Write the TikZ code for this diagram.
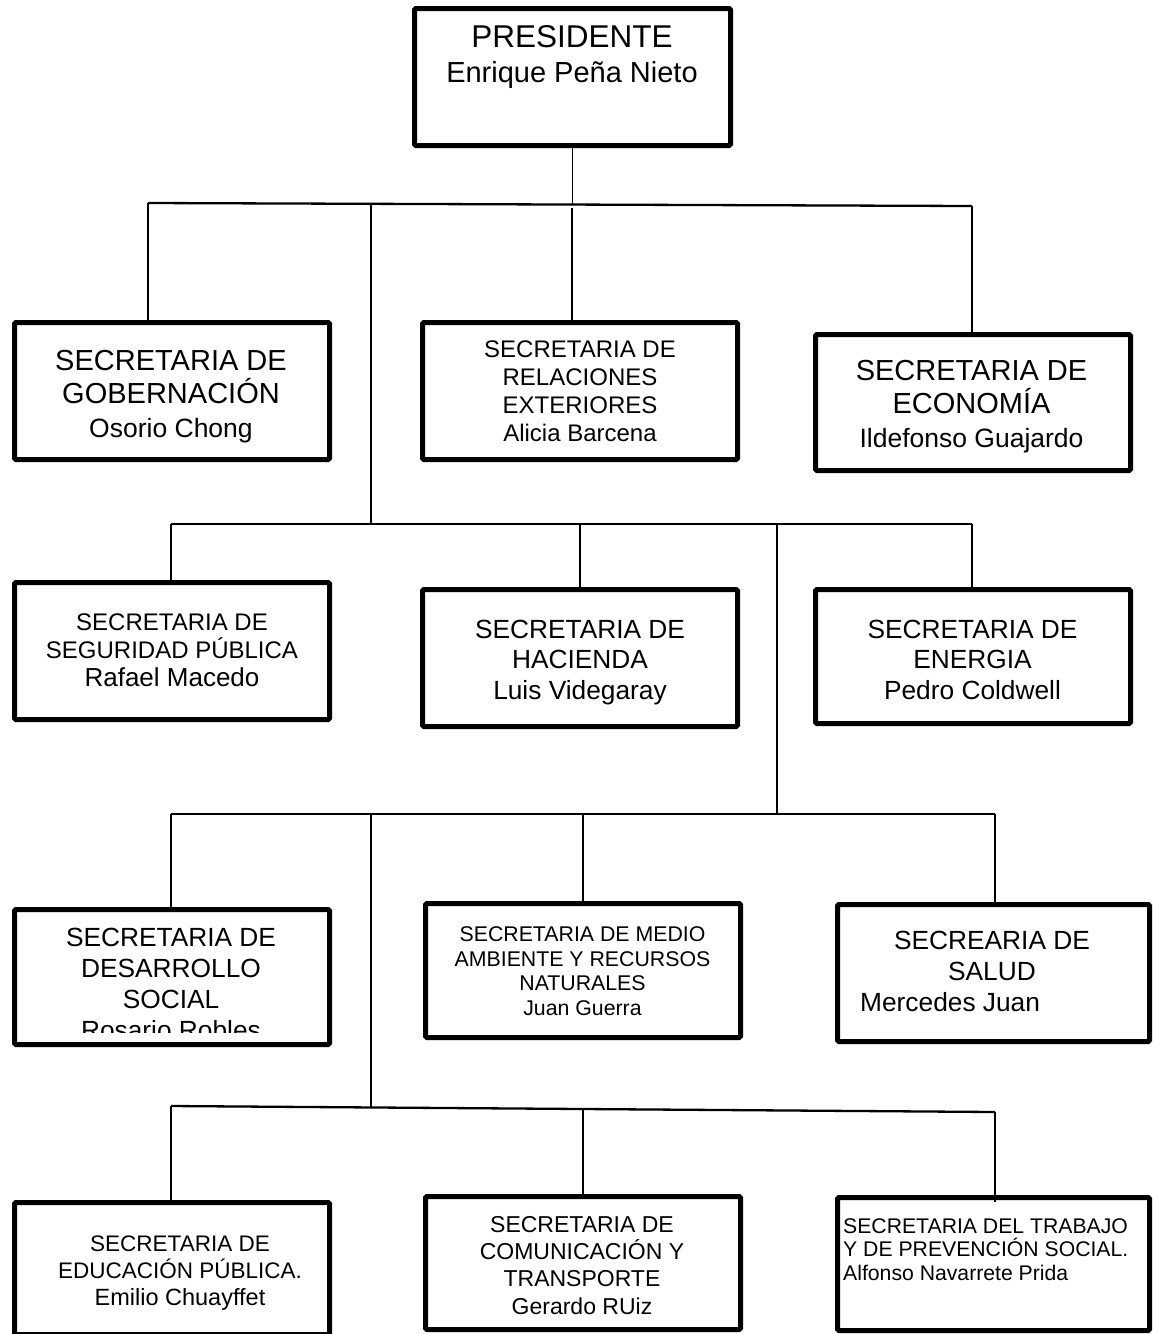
\documentclass[tikz,border=0pt]{standalone}
\usepackage{fontspec}
\setmainfont{Liberation Sans}
\newcommand\fs[2]{\fontsize{#1}{#2}\selectfont}
\begin{document}
\begin{tikzpicture}[x=1pt,y=-1pt,
  box/.style={draw, line width=5pt, rounded corners=1.5pt, inner sep=0pt, outer sep=0pt},
  conn/.style={line width=1.4pt},
  bus/.style={line width=2.3pt},
  txt/.style={inner sep=0pt, anchor=base, align=center},
  txl/.style={inner sep=0pt, anchor=base west, align=left}]
\useasboundingbox (0,0) rectangle (1152,1334);
% boxes
\node[box, minimum width=316pt, minimum height=137pt] (pres) at (572.5,77) {};
\node[box, minimum width=315pt, minimum height=137pt] (gob) at (172,391) {};
\node[box, minimum width=315pt, minimum height=137pt] (rel) at (580,391) {};
\node[box, minimum width=315pt, minimum height=136pt] (eco) at (973,402.5) {};
\node[box, minimum width=315pt, minimum height=137pt] (seg) at (172,651) {};
\node[box, minimum width=315pt, minimum height=137pt] (hac) at (580,658) {};
\node[box, minimum width=315pt, minimum height=134pt] (ene) at (973,656.5) {};
\node[box, minimum width=315pt, minimum height=135pt] (des) at (172,977) {};
\node[box, minimum width=315pt, minimum height=134pt] (med) at (583,970.5) {};
\node[box, minimum width=312pt, minimum height=137pt] (sal) at (993.5,973) {};
\node[box, minimum width=315pt, minimum height=132pt] (edu) at (172,1268.5) {};
\node[box, minimum width=315pt, minimum height=133pt] (com) at (583,1263) {};
\node[box, minimum width=312pt, minimum height=133pt] (tra) at (993.5,1264) {};
% texts (anchored at the baseline of the last line)
\node[txt, font=\fs{30}{35}] (presT) at (572,82) {{\fs{31.5}{35}PRESIDENTE}\\{\fs{29}{35}Enrique Peña Nieto}};
\node[txt, font=\fs{29}{33.5}] (gobT) at (171,437) {SECRETARIA DE\\GOBERNACIÓN\\{\fs{26.5}{33.5}Osorio Chong}};
\node[txt, font=\fs{24}{27.7}] (relT) at (580,441) {SECRETARIA DE\\RELACIONES\\EXTERIORES\\Alicia Barcena};
\node[txt, font=\fs{29}{33.5}] (ecoT) at (971.5,447) {SECRETARIA DE\\ECONOMÍA\\{\fs{26.5}{33.5}Ildefonso Guajardo}};
\node[txt, font=\fs{24}{28}] (segT) at (172,686) {SECRETARIA DE\\SEGURIDAD PÚBLICA\\{\fs{26}{28}Rafael Macedo}};
\node[txt, font=\fs{26.3}{30.5}] (hacT) at (580,699) {SECRETARIA DE\\HACIENDA\\Luis Videgaray};
\node[txt, font=\fs{26.3}{30.5}] (eneT) at (972.5,699) {SECRETARIA DE\\ENERGIA\\Pedro Coldwell};
\begin{scope}
\clip (12,907) rectangle (332,1032);
\node[txt, font=\fs{26.3}{30.8}] (desT) at (171,1039) {SECRETARIA DE\\DESARROLLO\\SOCIAL\\Rosario Robles};
\end{scope}
\node[txt, font=\fs{21.3}{24.4}] (medT) at (582.5,1015) {SECRETARIA DE MEDIO\\AMBIENTE Y RECURSOS\\NATURALES\\Juan Guerra};
\node[txt, font=\fs{26.3}{30.5}] (salT) at (992,980) {SECREARIA DE\\SALUD};
\node[txl, font=\fs{26.3}{30.5}] (salN) at (860,1011) {Mercedes Juan};
\node[txt, font=\fs{22.5}{27}] (eduT) at (180,1305) {SECRETARIA DE\\EDUCACIÓN PÚBLICA.\\{\fs{23.5}{27}Emilio Chuayffet}};
\node[txt, font=\fs{23}{27.3}] (comT) at (582,1314) {SECRETARIA DE\\COMUNICACIÓN Y\\TRANSPORTE\\Gerardo RUiz};
\node[txl, font=\fs{21.2}{23.5}] (traT) at (843,1280) {SECRETARIA DEL TRABAJO\\Y DE PREVENCIÓN SOCIAL.\\Alfonso Navarrete Prida};
% bus coordinates
\coordinate (b1L) at (148,203);
\coordinate (b1R) at (972,206);
\coordinate (b1s) at (371,203.8);
\coordinate (b1m) at (572.5,204.5);
\coordinate (b1r) at (572,208);
\coordinate (b2L) at (171,524);
\coordinate (b2R) at (972,524);
\coordinate (b2s) at (371,524);
\coordinate (b2h) at (580,524);
\coordinate (b2t) at (777,524);
\coordinate (b3L) at (171,814);
\coordinate (b3R) at (995,814);
\coordinate (b3t) at (777,814);
\coordinate (b3s) at (371,814);
\coordinate (b3m) at (583,814);
\coordinate (b4L) at (171,1106);
\coordinate (b4R) at (995,1112);
\coordinate (b4s) at (371,1107.5);
\coordinate (b4m) at (583,1109);
\coordinate (traIn) at (995,1202);
% buses
\draw[bus] (b1L) -- (b1R);
\draw[bus, line width=2pt] (b2L) -- (b2R);
\draw[bus, line width=2pt] (b3L) -- (b3R);
\draw[bus] (b4L) -- (b4R);
% connectors
\draw[conn] (pres.south -| b1m) -- (b1m);
\draw[conn] (b1L) -- (b1L |- gob.north);
\draw[conn] (b1s) -- (b2s);
\draw[conn] (b1r) -- (b1r |- rel.north);
\draw[conn] (b1R) -- (b1R |- eco.north);
\draw[conn] (b2L) -- (b2L |- seg.north);
\draw[conn] (b2h) -- (b2h |- hac.north);
\draw[conn] (b2t) -- (b3t);
\draw[conn] (b2R) -- (b2R |- ene.north);
\draw[conn] (b3L) -- (b3L |- des.north);
\draw[conn] (b3s) -- (b4s);
\draw[conn] (b3m) -- (b3m |- med.north);
\draw[conn] (b3R) -- (b3R |- sal.north);
\draw[conn] (b4L) -- (b4L |- edu.north);
\draw[conn] (b4m) -- (b4m |- com.north);
\draw[conn] (b4R) -- (traIn);
\end{tikzpicture}
\end{document}
